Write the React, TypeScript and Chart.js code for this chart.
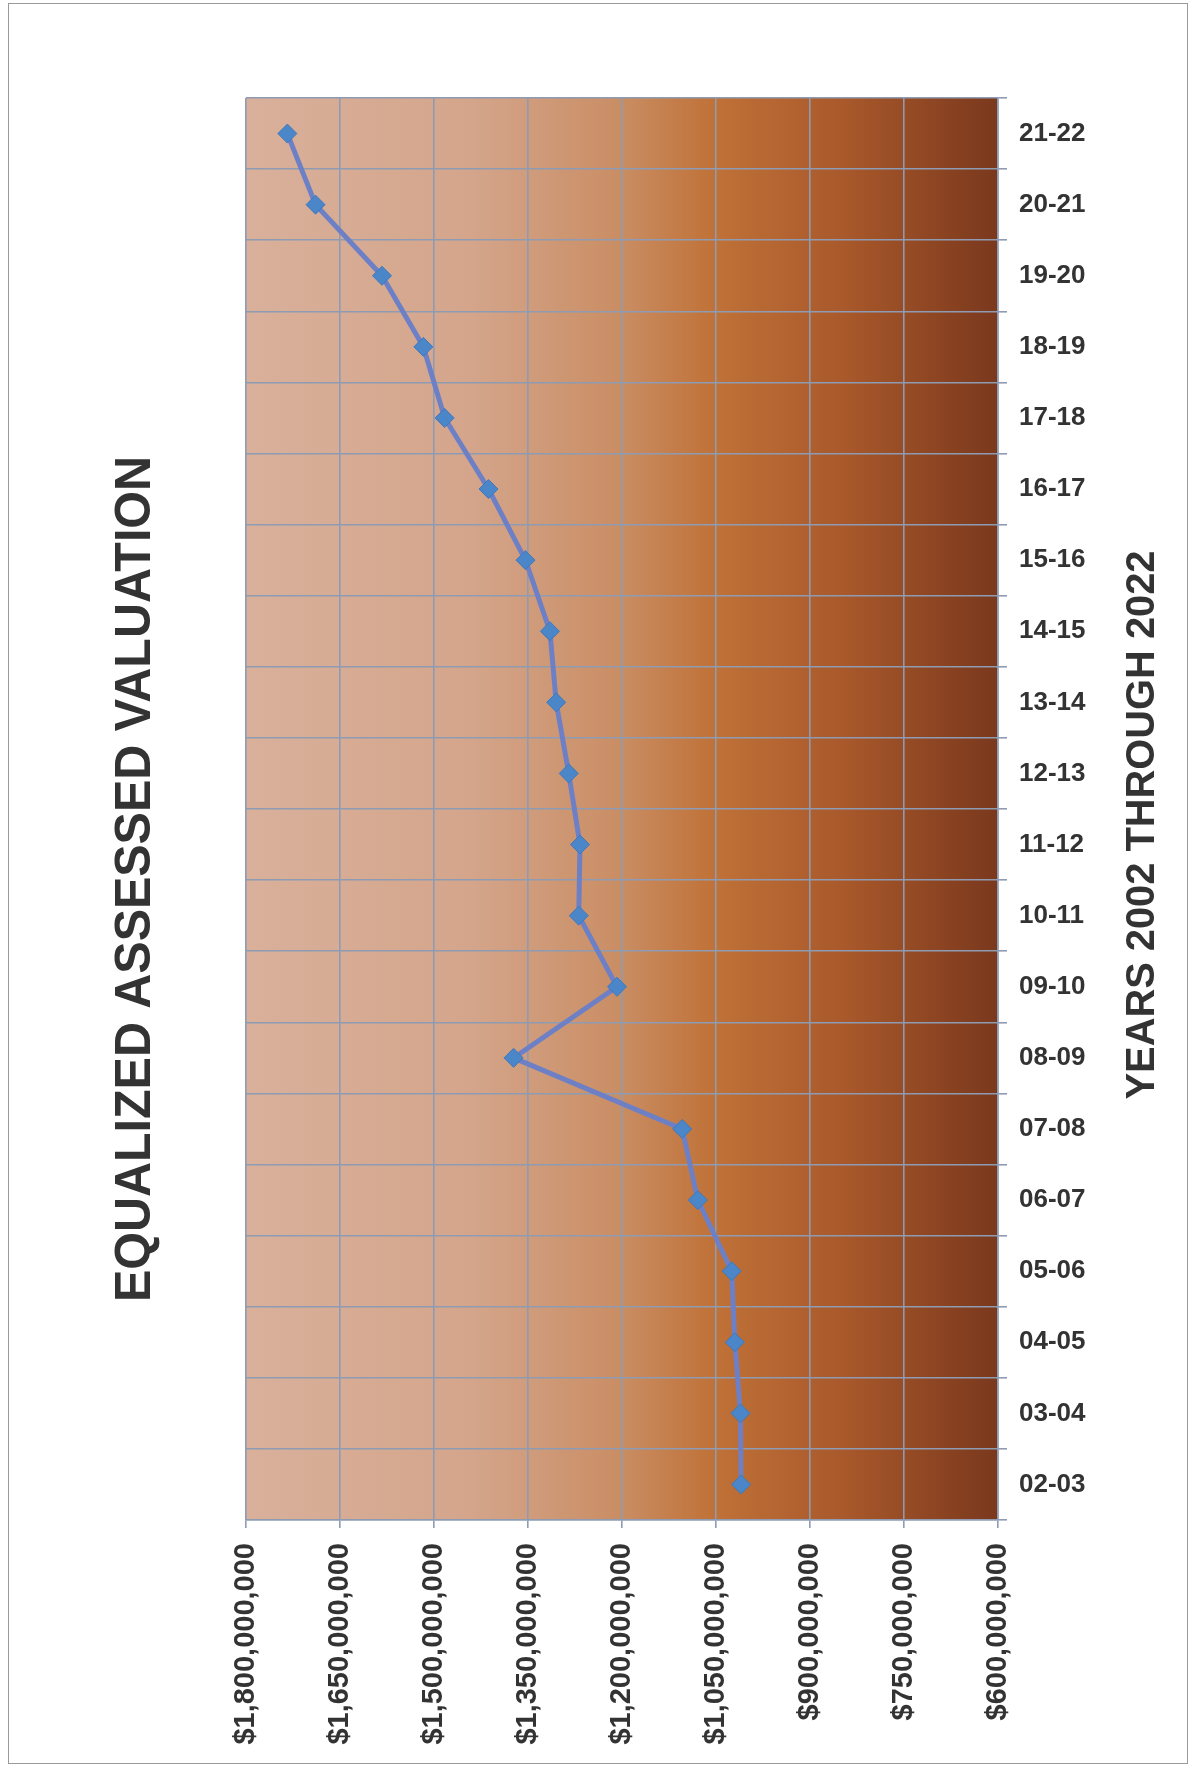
import React, { useEffect, useRef } from "react";
import { Chart, registerables } from "chart.js";

Chart.register(...registerables);

// Fiscal years, oldest first
const years = [
  "02-03", "03-04", "04-05", "05-06", "06-07", "07-08", "08-09", "09-10", "10-11", "11-12",
  "12-13", "13-14", "14-15", "15-16", "16-17", "17-18", "18-19", "19-20", "20-21", "21-22",
];

// Equalized assessed valuation per fiscal year (dollars)
const valuations = [
  1010e6, 1011e6, 1020e6, 1025e6, 1079e6, 1104e6, 1373e6, 1208e6, 1269e6, 1267e6,
  1285e6, 1305e6, 1315e6, 1354e6, 1413e6, 1483e6, 1517e6, 1583e6, 1689e6, 1734e6,
];

// Value axis range and tick spacing
const valueMin = 600e6;
const valueMax = 1800e6;
const valueStep = 150e6;

const chartTitle = "EQUALIZED ASSESSED VALUATION";
const yearsTitle = "YEARS 2002 THROUGH 2022";

const W = 1198;
const H = 1765;
const AREA = { left: 246, top: 98, right: 998, bottom: 1520 };

const sans = "'Liberation Sans', Arial, Helvetica, sans-serif";
const narrow = "'Liberation Sans Narrow', 'Arial Narrow', 'Liberation Sans', Arial, sans-serif";

const plotBackground = {
  id: "plotBackground",
  beforeDraw(chart: any) {
    const { ctx, chartArea: a } = chart;
    const g = ctx.createLinearGradient(a.left, 0, a.right, 0);
    g.addColorStop(0, "#d9b09b");
    g.addColorStop(0.3, "#d4a58b");
    g.addColorStop(0.5, "#c98d63");
    g.addColorStop(0.62, "#c07238");
    g.addColorStop(0.8, "#a8582a");
    g.addColorStop(1, "#7a381d");
    ctx.save();
    ctx.fillStyle = g;
    ctx.fillRect(a.left, a.top, a.right - a.left, a.bottom - a.top);
    ctx.restore();
  },
};

// Sideways titles, read bottom to top
const sideTitles = {
  id: "sideTitles",
  afterDraw(chart: any) {
    const { ctx, chartArea: a } = chart;
    const draw = (text: string, cx: number, cy: number, font: string, length: number) => {
      ctx.save();
      ctx.translate(cx, cy);
      ctx.rotate(-Math.PI / 2);
      ctx.font = font;
      const w = ctx.measureText(text).width;
      ctx.scale(length / w, 1);
      ctx.fillStyle = "#333333";
      ctx.textAlign = "center";
      ctx.textBaseline = "middle";
      ctx.fillText(text, 0, 0);
      ctx.restore();
    };
    draw(chartTitle, 136, 879, `bold 50px ${narrow}`, 846);
    draw(yearsTitle, 1143, (a.top + a.bottom) / 2 + 16, `bold 41px ${sans}`, 549);
  },
};

export default function App() {
  const canvasRef = useRef<HTMLCanvasElement | null>(null);

  useEffect(() => {
    const canvas = canvasRef.current;
    if (!canvas) return;
    const chart = new Chart(canvas, {
      type: "line",
      data: {
        labels: years,
        datasets: [
          {
            label: "Equalized Assessed Valuation",
            data: valuations,
            borderColor: "#6d80c6",
            borderWidth: 5,
            tension: 0,
            pointStyle: "rectRot",
            pointRadius: 9.5,
            pointBackgroundColor: "#4a86c8",
            pointBorderColor: "#3f78be",
            pointBorderWidth: 1,
          },
        ],
      },
      options: {
        indexAxis: "y",
        responsive: false,
        animation: false,
        events: [],
        layout: { padding: { left: AREA.left, top: AREA.top, right: 0, bottom: 0 } },
        plugins: {
          legend: { display: false },
          title: { display: false },
          tooltip: { enabled: false },
        },
        scales: {
          x: {
            type: "linear",
            position: "bottom",
            min: valueMin,
            max: valueMax,
            reverse: true,
            afterFit: (scale: any) => {
              scale.height = H - AREA.bottom;
            },
            grid: { color: "#8e9bb2", lineWidth: 1.6, tickLength: 8, tickColor: "#8e9bb2" },
            border: { color: "#8e9bb2", width: 1.6 },
            ticks: {
              stepSize: valueStep,
              minRotation: 90,
              maxRotation: 90,
              padding: 15,
              color: "#333333",
              font: { family: sans, size: 29, weight: "bold" },
              callback: (v: any) => "$" + Number(v).toLocaleString("en-US"),
            },
          },
          y: {
            type: "category",
            position: "right",
            reverse: true,
            offset: true,
            afterFit: (scale: any) => {
              scale.width = W - AREA.right;
            },
            grid: { offset: true, color: "#8e9bb2", lineWidth: 1.6, tickLength: 9, tickColor: "#8e9bb2" },
            border: { color: "#8e9bb2", width: 1.6 },
            ticks: {
              padding: 12,
              color: "#333333",
              font: { family: sans, size: 26, weight: "bold" },
            },
          },
        },
      },
      plugins: [plotBackground, sideTitles],
    });
    return () => chart.destroy();
  }, []);

  return (
    <div style={{ position: "absolute", left: 0, top: 0, width: W, height: H, background: "#ffffff" }}>
      <canvas ref={canvasRef} width={W} height={H} style={{ display: "block", width: W, height: H }} />
      <div
        style={{
          position: "absolute",
          left: 8,
          top: 3,
          width: 1178,
          height: 1759,
          border: "1px solid #9a9a9a",
          pointerEvents: "none",
        }}
      />
    </div>
  );
}
